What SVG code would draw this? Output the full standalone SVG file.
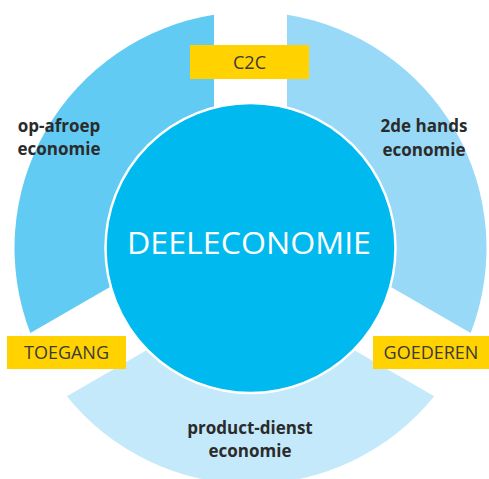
<svg xmlns="http://www.w3.org/2000/svg" width="489" height="479" viewBox="0 0 489 479">
<style>
.lbl{fill:#ffd200}
.lt{font-family:"Open Sans","Noto Sans",sans-serif;font-size:18px;fill:#3a3a3a;text-anchor:middle}
.bt{font-family:"Open Sans","Noto Sans",sans-serif;font-size:17px;font-weight:bold;fill:#2b2b2b;text-anchor:middle}
</style>
<rect width="489" height="479" fill="#ffffff"/>
<g id="seg-opafroep">
<path d="M214,226.9 L214,14.84 A236,236 0 0 0 30.33,332.97 Z" fill="#62cbf4"/>
<text class="bt" x="59" y="132">op-afroep</text>
<text class="bt" x="59" y="155">economie</text>
</g>
<g id="seg-2dehands">
<path d="M287,226.9 L287,14.84 A236,236 0 0 1 470.67,332.97 Z" fill="#97d9f7"/>
<text class="bt" x="424" y="132">2de hands</text>
<text class="bt" x="424" y="156">economie</text>
</g>
<g id="seg-productdienst">
<path d="M250.5,290.15 L66.83,396.19 A236,236 0 0 0 434.17,396.19 Z" fill="#c4e9fa"/>
<text class="bt" x="250" y="434">product-dienst</text>
<text class="bt" x="250" y="457">economie</text>
</g>
<g id="center">
<circle cx="250.5" cy="248" r="145" fill="#00b9ef" stroke="#ffffff" stroke-width="2.5"/>
<text x="249" y="254" font-family="'Open Sans','Noto Sans',sans-serif" font-size="31" fill="#ffffff" text-anchor="middle" textLength="244" lengthAdjust="spacingAndGlyphs">DEELECONOMIE</text>
</g>
<g id="label-c2c">
<rect class="lbl" x="190" y="45" width="119" height="34"/>
<text class="lt" x="249.5" y="69">C2C</text>
</g>
<g id="label-toegang">
<rect class="lbl" x="7" y="336" width="119" height="33"/>
<text class="lt" x="66.5" y="359">TOEGANG</text>
</g>
<g id="label-goederen">
<rect class="lbl" x="373" y="336" width="116" height="33"/>
<text class="lt" x="431" y="359">GOEDEREN</text>
</g>
<g id="connectors"/>
</svg>
